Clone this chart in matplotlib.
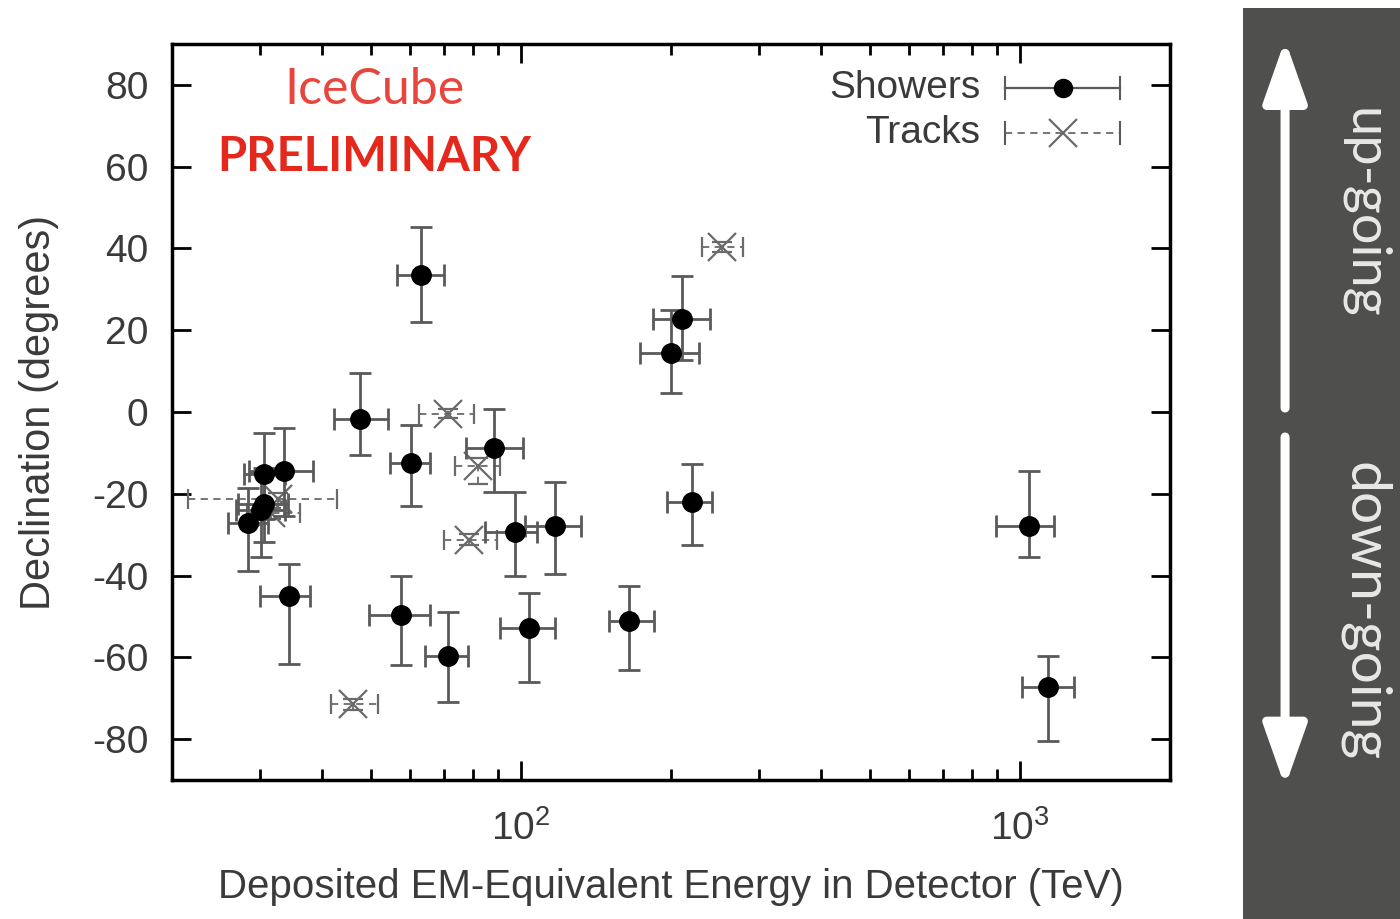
import matplotlib
matplotlib.use('Agg')
import matplotlib.pyplot as plt
from matplotlib.patches import Rectangle, FancyArrowPatch
from matplotlib.lines import Line2D
from matplotlib.ticker import LogLocator, NullFormatter, FixedLocator

plt.rcParams['font.family'] = ['Liberation Sans', 'DejaVu Sans']
plt.rcParams['mathtext.default'] = 'regular'
plt.rcParams['axes.unicode_minus'] = False

# Shower events: deposited energy (TeV) with asymmetric errors, declination (deg) with errors
shower_E = [47.6, 117, 165, 28.4, 34.3, 63.2, 97.2, 88.4, 104, 1041, 57.5, 30.6, 200,
            71.5, 1141, 30.2, 220, 30.5, 33.5, 210, 60.2]
shower_E_lo = [5.4, 15, 15, 2.5, 4.3, 6.7, 12.4, 10.7, 13, 144, 7.8, 3.5, 27,
               7.2, 133, 3.3, 24, 2.6, 5.0, 26, 5.6]
shower_E_hi = [6.5, 15, 20, 2.7, 3.5, 7.1, 10.4, 12.5, 13, 132, 8.3, 3.6, 27,
               7.0, 143, 3.5, 21, 3.2, 4.9, 29, 5.6]
shower_dec = [-1.8, -27.9, -51.2, -27.2, -45.1, 33.6, -29.4, -8.9, -52.8, -27.9, -49.7, -22.6, 14.5,
              -59.7, -67.2, -24.0, -22.1, -15.1, -14.5, 22.7, -12.6]
shower_dec_lo = [8.8, 11.7, 12.0, 11.6, 16.5, 11.5, 10.6, 10.7, 13.2, 7.6, 12.1, 9.2, 9.8,
                 11.2, 13.3, 11.5, 10.5, 11.0, 11.0, 10.0, 10.3]
shower_dec_hi = [11.3, 10.8, 8.6, 8.7, 8.0, 11.6, 9.8, 9.6, 8.6, 13.5, 9.5, 9.0, 10.4,
                 10.8, 7.6, 9.0, 9.3, 10.0, 10.5, 10.6, 9.4]

# Track events
track_E = [78.7, 71.4, 32.6, 253, 31.5, 82.2, 46.1]
track_E_lo = [8.7, 9.0, 11.1, 22, 3.3, 8.4, 4.4]
track_E_hi = [10.8, 9.0, 10.3, 26, 4.6, 8.6, 5.7]
track_dec = [-31.2, -0.4, -21.2, 40.3, -24.8, -13.2, -71.5]
track_dec_lo = [1.4, 1.2, 1.3, 1.2, 1.3, 4.5, 1.3]
track_dec_hi = [1.4, 1.2, 1.3, 1.2, 1.3, 1.9, 1.3]

y_ticks = [-80, -60, -40, -20, 0, 20, 40, 60, 80]

txt = '#3a3a3a'
bar_col = '#5a5a5a'
trk_col = '#6a6a6a'

fig = plt.figure(figsize=(14, 9.19), dpi=100)
ax = fig.add_axes([0.1229, 0.1513, 0.7129, 0.8009])

# showers
ax.errorbar(shower_E, shower_dec,
            xerr=[shower_E_lo, shower_E_hi], yerr=[shower_dec_lo, shower_dec_hi],
            fmt='o', color='black', ms=14, ecolor=bar_col, elinewidth=2,
            capsize=8, capthick=2, zorder=3)

# tracks, dashed error bars
tr = ax.errorbar(track_E, track_dec,
                 xerr=[track_E_lo, track_E_hi], yerr=[track_dec_lo, track_dec_hi],
                 fmt='x', color=trk_col, ms=20, mew=1.6, ecolor=trk_col, elinewidth=1.3,
                 capsize=7, capthick=1.3, zorder=2)
for lc in tr[2]:
    lc.set_linestyle((0, (4, 3)))

ax.set_xscale('log')
ax.set_xlim(20, 2000)
ax.set_ylim(-90, 90)
ax.xaxis.set_major_locator(FixedLocator([100, 1000]))
ax.set_xticklabels(['$10^{2}$', '$10^{3}$'])
ax.xaxis.set_minor_locator(LogLocator(base=10, subs=range(2, 10), numticks=20))
ax.xaxis.set_minor_formatter(NullFormatter())
ax.set_yticks(y_ticks)
ax.set_yticklabels([str(v) for v in y_ticks])

ax.tick_params(which='both', direction='in', top=True, right=True, colors='black',
               labelcolor=txt, labelsize=28, width=2)
ax.tick_params(which='major', length=14)
ax.tick_params(axis='y', which='major', pad=17)
ax.tick_params(axis='x', which='major', pad=22)
ax.tick_params(which='minor', length=8)
for s in ax.spines.values():
    s.set_linewidth(2.5)

ax.set_xlabel('Deposited EM-Equivalent Energy in Detector (TeV)', fontsize=29, color=txt, labelpad=14)
ax.set_ylabel('Declination (degrees)', fontsize=30, color=txt, labelpad=24)

# legend drawn gnuplot-style
ax.text(0.8096, 0.9402, 'Showers', transform=ax.transAxes, ha='right', va='center',
        fontsize=28, color=txt)
ax.text(0.8096, 0.8791, 'Tracks', transform=ax.transAxes, ha='right', va='center',
        fontsize=28, color=txt)
ax.add_line(Line2D([0.8347, 0.9499], [0.9402, 0.9402], transform=ax.transAxes,
                   color=bar_col, lw=1.6))
ax.add_line(Line2D([0.8928], [0.9402], transform=ax.transAxes, marker='o', ms=13,
                   color='black', ls='none'))
ax.add_line(Line2D([0.8347, 0.9499], [0.8791, 0.8791], transform=ax.transAxes,
                   color=trk_col, lw=1.3, ls=(0, (4, 3))))
ax.add_line(Line2D([0.8928], [0.8791], transform=ax.transAxes, marker='x', ms=20, mew=1.6,
                   color=trk_col, ls='none'))
for xc, yc in [(0.8347, 0.9402), (0.9499, 0.9402), (0.8347, 0.8791), (0.9499, 0.8791)]:
    ax.add_line(Line2D([xc, xc], [yc - 0.015, yc + 0.015], transform=ax.transAxes,
                       color=bar_col, lw=1.5))

# IceCube stamp
ax.text(0.2024, 0.9375, 'IceCube', transform=ax.transAxes, ha='center', va='center',
        fontsize=36, color='#e8463c', family='Lato')
ax.text(0.2024, 0.847, 'PRELIMINARY', transform=ax.transAxes, ha='center', va='center',
        fontsize=34, color='#e5281c', family='Lato', fontweight='bold')

# right-hand panel with direction arrows
fig.add_artist(Rectangle((0.8879, 0), 0.1121, 0.9913, transform=fig.transFigure,
                         facecolor='#4f4f4d', edgecolor='none'))
arrow_kw = dict(arrowstyle='-|>,head_length=1.7,head_width=0.6', color='white', lw=6.5,
                mutation_scale=22, shrinkA=0, shrinkB=0)
fig.add_artist(FancyArrowPatch((0.9179, 0.556), (0.9179, 0.9565),
                               transform=fig.transFigure, **arrow_kw))
fig.add_artist(FancyArrowPatch((0.9179, 0.5245), (0.9179, 0.144),
                               transform=fig.transFigure, **arrow_kw))
fig.text(0.9745, 0.768, 'up-going', rotation=-90, ha='center', va='center',
         fontsize=39, color='#e8e8e8', family='Lato')
fig.text(0.9745, 0.334, 'down-going', rotation=-90, ha='center', va='center',
         fontsize=41, color='#e8e8e8', family='Lato')

fig.savefig('out.png', dpi=100)
